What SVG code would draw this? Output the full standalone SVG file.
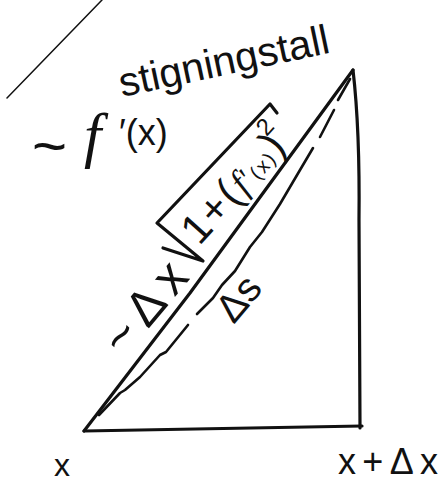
<svg xmlns="http://www.w3.org/2000/svg" width="442" height="485" viewBox="0 0 442 485">
<style>
.ink{fill:none;stroke:#111;stroke-linecap:round;stroke-linejoin:round}
.thick{stroke-width:3.2}
.mid{stroke-width:2.6}
.thin{stroke-width:1.5}
text{font-family:"Liberation Sans",Arial,sans-serif;fill:#111}
.it{font-family:"Liberation Serif","Times New Roman",serif;font-style:italic}
</style>
<rect width="442" height="485" fill="#fff"/>
<g id="tangent">
<path class="ink thin" d="M7,98 L102,0"/>
</g>
<g id="triangle">
<path class="ink thick" d="M84,431 L190,293 L353,70"/>
<path class="ink thick" d="M84,431 L362,426"/>
<path class="ink thick" d="M353,70 Q360,130 359,220 L360,428"/>
</g>
<g id="curve">
<path class="ink mid" d="M99,415 L120,393 L125,390 L140,377 L160,355 L166,352 L188,325"/>
<path class="ink mid" d="M197,314 L213,298 L222,285 L235,271 L250,247 L262,232 L280,204 L300,170 L313,148"/>
<path class="ink mid" d="M320,137 L334,110"/>
<path class="ink mid" d="M338,100 L350,79"/>
</g>
<g id="radical">
<path class="ink thick" d="M163,248 L203,261 L157,223 L270,104 L277,113"/>
</g>
<g id="labels">
<text transform="translate(224,62) rotate(-12)" x="0" y="13" font-size="41" text-anchor="middle">stigningstall</text>
<text x="32" y="166" font-size="60">~</text>
<text x="84" y="156" font-size="62" class="it">f</text>
<text x="119" y="145" font-size="36">′(x)</text>
<text transform="translate(145,308) rotate(-50)" x="0" y="16" font-size="50" text-anchor="middle" textLength="104">~Δx</text>
<text transform="translate(233,188) rotate(-48)" x="0" y="14" text-anchor="middle" textLength="132"><tspan font-size="42">1+(</tspan><tspan font-size="36" class="it">f</tspan><tspan font-size="30">′</tspan><tspan font-size="20">(x)</tspan><tspan font-size="42">)</tspan></text>
<text transform="translate(265,127) rotate(-48)" x="0" y="8" font-size="24" text-anchor="middle">2</text>
<text transform="translate(238,298) rotate(-50)" x="0" y="14" font-size="40" text-anchor="middle">Δs</text>
<text x="62" y="476" font-size="32" text-anchor="middle">x</text>
<text x="338" y="474" font-size="36" textLength="100">x+Δx</text>
</g>
</svg>
